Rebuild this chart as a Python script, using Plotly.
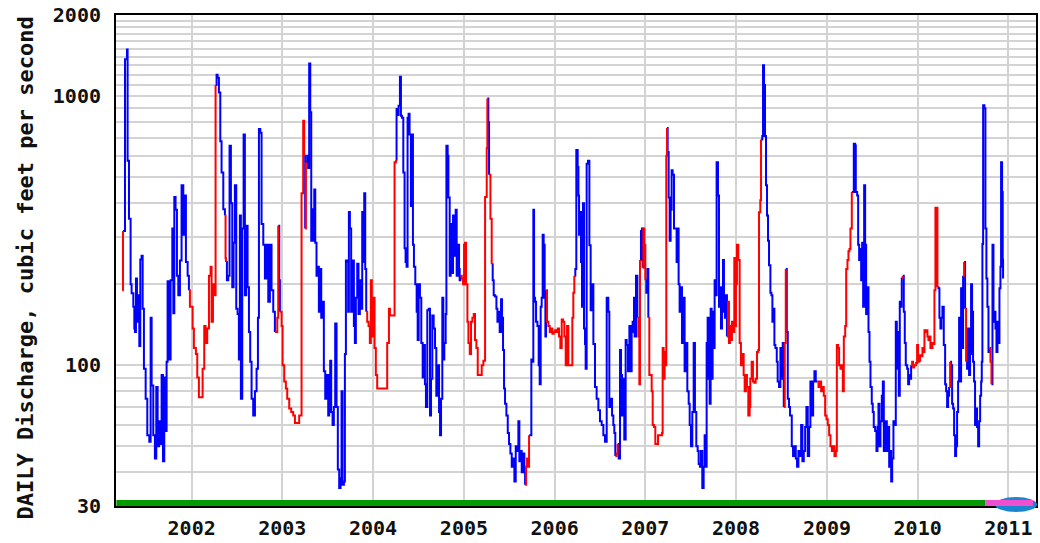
import math
from datetime import datetime
import plotly.graph_objects as go

# ---------------- data ----------------
# time in decimal years, discharge in cubic feet per second,
# flag per point: b = approved (blue), r = estimated/edited (red)

t_2001 = [2001.235, 2001.243, 2001.265, 2001.287, 2001.294, 2001.309, 2001.327, 2001.338, 2001.357, 2001.368,
          2001.375, 2001.386, 2001.397, 2001.412, 2001.423, 2001.434, 2001.448, 2001.460, 2001.474, 2001.493,
          2001.511, 2001.533, 2001.548, 2001.559, 2001.577, 2001.595, 2001.610, 2001.625, 2001.640, 2001.658,
          2001.669, 2001.684, 2001.698, 2001.713, 2001.724, 2001.735, 2001.753, 2001.768, 2001.787, 2001.798,
          2001.809, 2001.823, 2001.838, 2001.853, 2001.871, 2001.889, 2001.908, 2001.926, 2001.937, 2001.956,
          2001.970, 2001.981, 2002.011, 2002.025, 2002.047, 2002.062, 2002.080, 2002.102, 2002.121, 2002.139,
          2002.154, 2002.172, 2002.191, 2002.209, 2002.220, 2002.235, 2002.250, 2002.264, 2002.275, 2002.286,
          2002.301, 2002.316, 2002.330, 2002.349, 2002.367, 2002.374, 2002.378, 2002.389, 2002.404, 2002.418,
          2002.433, 2002.448, 2002.463, 2002.477, 2002.492, 2002.507, 2002.521, 2002.532, 2002.543, 2002.558,
          2002.573, 2002.587, 2002.602, 2002.617, 2002.632, 2002.646, 2002.661, 2002.679, 2002.698, 2002.716,
          2002.731, 2002.742, 2002.757, 2002.771, 2002.790, 2002.808, 2002.826, 2002.845]
q_2001 = [190, 315, 1370, 1490, 575, 350, 200, 185, 165, 137,
          133, 210, 145, 182, 118, 247, 255, 162, 97, 75,
          55, 52, 150, 84, 55, 45, 83, 50, 62, 51,
          92, 44, 90, 57, 103, 205, 105, 207, 322, 156,
          422, 378, 215, 182, 245, 466, 305, 427, 242, 215,
          190, 165, 137, 116, 110, 90, 76, 76, 97, 140,
          121, 137, 215, 232, 145, 200, 182, 1100, 1200, 1170,
          1030, 680, 520, 380, 360, 250, 242, 207, 215, 654,
          400, 195, 285, 466, 162, 155, 105, 360, 75, 322,
          720, 182, 330, 195, 133, 103, 75, 65, 80, 97,
          150, 755, 730, 335, 280, 210, 280, 172]
f_2001 = ("rbbbbbbbbb bbbbbbbbbb bbbbbbbbbb bbbbbbbbbb bbbbbbbbbb "
          "rrrrrrrrrr rrrrrrrbbb bbbbrrbbbb bbbbbbbbbb bbbbbbbbbb bbbbbbbb")

t_2003 = [2002.863, 2002.881, 2002.900, 2002.918, 2002.944, 2002.955, 2002.966, 2002.973, 2002.992, 2003.003,
          2003.021, 2003.039, 2003.054, 2003.076, 2003.098, 2003.120, 2003.139, 2003.168, 2003.186, 2003.205,
          2003.212, 2003.230, 2003.241, 2003.252, 2003.260, 2003.274, 2003.285, 2003.296, 2003.308, 2003.319,
          2003.330, 2003.341, 2003.352, 2003.363, 2003.377, 2003.392, 2003.403, 2003.414, 2003.429, 2003.443,
          2003.458, 2003.473, 2003.488, 2003.506, 2003.517, 2003.528, 2003.539, 2003.554, 2003.568, 2003.583,
          2003.598, 2003.612, 2003.627, 2003.642, 2003.653, 2003.664, 2003.679, 2003.690, 2003.701, 2003.715,
          2003.726, 2003.734, 2003.745, 2003.759, 2003.774, 2003.789, 2003.800, 2003.811, 2003.826, 2003.840,
          2003.855, 2003.870, 2003.881, 2003.892, 2003.903, 2003.914, 2003.925, 2003.936, 2003.951, 2003.965,
          2003.976, 2003.987, 2004.002, 2004.017, 2004.031, 2004.046, 2004.149, 2004.156, 2004.175, 2004.186,
          2004.230, 2004.237, 2004.252, 2004.259, 2004.270, 2004.281, 2004.296, 2004.307, 2004.318, 2004.333,
          2004.347, 2004.358, 2004.369, 2004.380, 2004.391, 2004.402, 2004.417, 2004.428, 2004.439, 2004.450,
          2004.465, 2004.480, 2004.491, 2004.502, 2004.516, 2004.531, 2004.546, 2004.560]
q_2003 = [280, 190, 158, 133, 150, 330, 207, 158, 140, 100,
          87, 82, 75, 69, 67, 65, 61, 61, 65, 65,
          435, 810, 600, 322, 568, 600, 540, 1320, 870, 290,
          380, 290, 450, 285, 215, 232, 158, 228, 150, 172,
          95, 75, 92, 65, 72, 104, 67, 60, 70, 143,
          70, 41, 35, 38, 80, 36, 37, 110, 245, 242,
          158, 371, 322, 158, 245, 140, 121, 178, 238, 155,
          207, 162, 371, 242, 435, 228, 158, 145, 140, 121,
          207, 128, 178, 116, 92, 82, 82, 121, 162, 153,
          153, 568, 580, 895, 850, 920, 1180, 845, 830, 520,
          272, 242, 232, 830, 860, 720, 390, 720, 280, 232,
          200, 158, 124, 200, 178, 121, 90, 119]
f_2003 = ("bbbrrbbrrr rrrrrrrrrr rrbrbbbbbb bbbbbbbbbb bbbbbbbbbb bbbbbbbbbb "
          "bbbbbbbbbb bbbbbbrrrr rrrrrrrrrr rrbbbbbbbb bbbbbbbbbb bbbbbbbb")

t_2005 = [2004.571, 2004.582, 2004.597, 2004.612, 2004.627, 2004.638, 2004.652, 2004.667, 2004.682, 2004.696,
          2004.711, 2004.726, 2004.737, 2004.748, 2004.762, 2004.773, 2004.784, 2004.799, 2004.807, 2004.821,
          2004.829, 2004.843, 2004.854, 2004.865, 2004.880, 2004.895, 2004.909, 2004.920, 2004.935, 2004.946,
          2004.953, 2004.961, 2004.976, 2004.990, 2005.001, 2005.012, 2005.023, 2005.038, 2005.049, 2005.064,
          2005.078, 2005.093, 2005.108, 2005.122, 2005.137, 2005.152, 2005.196, 2005.214, 2005.233, 2005.251,
          2005.258, 2005.269, 2005.277, 2005.292, 2005.306, 2005.317, 2005.328, 2005.343, 2005.358, 2005.369,
          2005.380, 2005.394, 2005.409, 2005.420, 2005.431, 2005.442, 2005.453, 2005.468, 2005.483, 2005.497,
          2005.512, 2005.527, 2005.541, 2005.556, 2005.571, 2005.585, 2005.600, 2005.611, 2005.622, 2005.637,
          2005.652, 2005.666, 2005.674, 2005.685, 2005.696, 2005.707, 2005.718, 2005.732, 2005.743, 2005.754,
          2005.765, 2005.773, 2005.784, 2005.795, 2005.810, 2005.824, 2005.835, 2005.846, 2005.857, 2005.868,
          2005.879, 2005.890, 2005.898, 2005.905, 2005.916, 2005.931, 2005.946, 2005.960, 2005.975, 2005.990,
          2006.004, 2006.019, 2006.034, 2006.048, 2006.063, 2006.078, 2006.093, 2006.107, 2006.122, 2006.137,
          2006.151, 2006.188, 2006.195, 2006.206, 2006.217, 2006.228, 2006.239, 2006.254, 2006.262, 2006.269]
q_2005 = [85, 70, 160, 162, 65, 89, 153, 137, 116, 77,
          100, 67, 55, 75, 178, 105, 121, 155, 654, 600,
          420, 215, 335, 220, 360, 255, 378, 215, 280, 228,
          207, 215, 210, 200, 280, 285, 200, 145, 121, 110,
          145, 150, 155, 124, 116, 92, 100, 104, 422, 640,
          980, 800, 510, 350, 237, 207, 182, 180, 162, 145,
          158, 133, 176, 150, 114, 82, 72, 65, 56, 51,
          47, 42, 45, 37, 50, 48, 62, 44, 48, 40,
          47, 40, 36, 42, 45, 42, 55, 55, 105, 103,
          378, 178, 172, 145, 140, 100, 85, 165, 178, 305,
          280, 178, 128, 190, 145, 140, 133, 137, 131, 133,
          135, 133, 137, 128, 116, 148, 145, 128, 100, 140,
          100, 100, 150, 186, 215, 228, 630, 545, 427, 305]
f_2005 = ("bbbbbbbbbb bbbbbbbbbb bbbbbbbbbb brrrrrrrrr rrrrrrrrrr bbrrbbbbbb bbbbbbbbbb "
          "bbbbbbbbbb bbrrrrbbbb bbbbbbbbbb bbbrrrrrrr rrrrrrrrrr rrrrbbbbbb")

t_2007 = [2006.280, 2006.291, 2006.302, 2006.313, 2006.324, 2006.335, 2006.342, 2006.353, 2006.368, 2006.383,
          2006.397, 2006.412, 2006.427, 2006.445, 2006.463, 2006.482, 2006.500, 2006.519, 2006.537, 2006.555,
          2006.574, 2006.592, 2006.603, 2006.618, 2006.633, 2006.647, 2006.658, 2006.669, 2006.684, 2006.695,
          2006.706, 2006.721, 2006.732, 2006.743, 2006.757, 2006.768, 2006.783, 2006.794, 2006.809, 2006.824,
          2006.838, 2006.849, 2006.860, 2006.875, 2006.882, 2006.897, 2006.912, 2006.923, 2006.934, 2006.941,
          2006.952, 2006.963, 2006.971, 2006.978, 2006.989, 2007.000, 2007.011, 2007.022, 2007.033, 2007.044,
          2007.059, 2007.070, 2007.081, 2007.095, 2007.110, 2007.125, 2007.140, 2007.184, 2007.191, 2007.202,
          2007.213, 2007.224, 2007.231, 2007.239, 2007.246, 2007.257, 2007.268, 2007.279, 2007.290, 2007.301,
          2007.316, 2007.331, 2007.345, 2007.356, 2007.367, 2007.378, 2007.393, 2007.404, 2007.419, 2007.433,
          2007.448, 2007.463, 2007.478, 2007.489, 2007.503, 2007.518, 2007.533, 2007.547, 2007.562, 2007.577,
          2007.588, 2007.602, 2007.613, 2007.628, 2007.643, 2007.654, 2007.665, 2007.676, 2007.687, 2007.698,
          2007.709, 2007.720, 2007.731, 2007.742, 2007.753, 2007.764, 2007.775, 2007.786, 2007.801, 2007.812,
          2007.823, 2007.834, 2007.845, 2007.856, 2007.867, 2007.878, 2007.889, 2007.900, 2007.911, 2007.922,
          2007.933, 2007.944, 2007.955, 2007.970, 2007.981]
q_2007 = [371, 242, 165, 400, 137, 120, 97, 560, 575, 279,
          160, 200, 120, 83, 75, 68, 62, 60, 55, 52,
          178, 158, 70, 75, 65, 60, 56, 46, 47, 51,
          45, 114, 92, 65, 89, 53, 124, 119, 95, 140,
          95, 133, 145, 178, 128, 215, 150, 128, 85, 246,
          315, 322, 230, 322, 280, 207, 186, 228, 150, 92,
          92, 80, 60, 59, 51, 51, 55, 56, 116, 89,
          112, 100, 600, 760, 620, 420, 290, 378, 530, 510,
          322, 322, 242, 322, 200, 158, 195, 121, 178, 95,
          121, 80, 72, 60, 50, 67, 121, 67, 50, 48,
          43, 42, 48, 35, 42, 55, 42, 121, 150, 89,
          72, 162, 89, 158, 116, 207, 182, 568, 427, 165,
          195, 137, 158, 246, 182, 150, 182, 128, 172, 121,
          140, 124, 145, 133, 250]
f_2007 = ("bbbbbbbbbb bbbbbbbbbb bbbbbbbrrb bbbbbbbbbb bbbbbbrrrb bbrrrbbbrr rrrrrrrrrr "
          "rrrbbbbbbb bbbbbbbbbb bbbbbbbbbb bbbbbbbbbb bbbbbbbbbb bbbbbbbrrr rrrrr")

t_2009 = [2007.988, 2007.999, 2008.010, 2008.025, 2008.040, 2008.054, 2008.069, 2008.084, 2008.095, 2008.109,
          2008.120, 2008.135, 2008.150, 2008.157, 2008.172, 2008.186, 2008.201, 2008.216, 2008.231, 2008.245,
          2008.253, 2008.267, 2008.275, 2008.289, 2008.297, 2008.308, 2008.319, 2008.330, 2008.341, 2008.352,
          2008.363, 2008.378, 2008.389, 2008.400, 2008.411, 2008.422, 2008.433, 2008.448, 2008.458, 2008.473,
          2008.488, 2008.499, 2008.514, 2008.525, 2008.536, 2008.547, 2008.558, 2008.569, 2008.583, 2008.594,
          2008.613, 2008.627, 2008.642, 2008.657, 2008.671, 2008.686, 2008.701, 2008.716, 2008.730, 2008.745,
          2008.760, 2008.774, 2008.789, 2008.804, 2008.818, 2008.833, 2008.848, 2008.862, 2008.877, 2008.892,
          2008.907, 2008.921, 2008.936, 2008.951, 2008.965, 2008.980, 2008.995, 2009.009, 2009.024, 2009.039,
          2009.054, 2009.068, 2009.083, 2009.098, 2009.109, 2009.123, 2009.134, 2009.149, 2009.164, 2009.175,
          2009.186, 2009.201, 2009.212, 2009.226, 2009.237, 2009.248, 2009.259, 2009.274, 2009.285, 2009.296,
          2009.311, 2009.318, 2009.333, 2009.344, 2009.355, 2009.366, 2009.377, 2009.388, 2009.399, 2009.410,
          2009.421, 2009.432, 2009.443, 2009.458, 2009.469, 2009.480, 2009.494, 2009.505, 2009.516, 2009.531,
          2009.546, 2009.557, 2009.568, 2009.579, 2009.590, 2009.605, 2009.616, 2009.627]
q_2009 = [140, 200, 280, 246, 121, 100, 110, 92, 80, 92,
          83, 65, 70, 89, 103, 87, 86, 89, 112, 114,
          370, 410, 690, 710, 1300, 1100, 710, 466, 360, 290,
          235, 186, 182, 145, 162, 119, 116, 103, 87, 83,
          116, 89, 121, 70, 121, 228, 133, 75, 70, 65,
          50, 46, 50, 45, 42, 48, 46, 60, 44, 48,
          59, 70, 46, 59, 87, 65, 87, 95, 87, 87,
          83, 87, 80, 83, 77, 65, 63, 60, 55, 50,
          48, 50, 46, 48, 119, 116, 100, 97, 100, 80,
          128, 140, 228, 246, 265, 270, 322, 440, 440, 665,
          655, 440, 427, 280, 246, 270, 207, 285, 165, 466,
          280, 155, 195, 133, 103, 83, 72, 67, 59, 57,
          48, 59, 72, 50, 62, 77, 87, 48]
f_2009 = ("rrrrrrrrrr rrrrrrrrrr rrbbbbbbbb bbbbbbbbbb bbbrrbbbbb bbbbbbbbbb bbbbbbbbbr "
          "rrrrrrrrrr rrrrrrrrrr rrrrrrrbbb bbbbbbbbbb bbbbbbbbbb bbbbbbbb")

t_2010 = [2009.642, 2009.660, 2009.675, 2009.686, 2009.697, 2009.708, 2009.719, 2009.733, 2009.748, 2009.759,
          2009.770, 2009.781, 2009.792, 2009.803, 2009.814, 2009.825, 2009.836, 2009.847, 2009.858, 2009.869,
          2009.884, 2009.895, 2009.906, 2009.917, 2009.928, 2009.939, 2009.950, 2009.961, 2009.972, 2009.983,
          2009.994, 2010.005, 2010.016, 2010.027, 2010.038, 2010.053, 2010.064, 2010.075, 2010.086, 2010.097,
          2010.108, 2010.119, 2010.130, 2010.141, 2010.152, 2010.163, 2010.174, 2010.185, 2010.196, 2010.207,
          2010.218, 2010.229, 2010.240, 2010.251, 2010.262, 2010.273, 2010.288, 2010.303, 2010.314, 2010.325,
          2010.336, 2010.347, 2010.358, 2010.369, 2010.380, 2010.391, 2010.402, 2010.413, 2010.424, 2010.435,
          2010.446, 2010.457, 2010.468, 2010.479, 2010.490, 2010.501, 2010.512, 2010.523, 2010.534, 2010.545,
          2010.556, 2010.567, 2010.578, 2010.589, 2010.600, 2010.611, 2010.622, 2010.633, 2010.644, 2010.655,
          2010.667, 2010.678, 2010.689, 2010.700, 2010.707, 2010.714, 2010.722, 2010.736, 2010.747, 2010.758,
          2010.769, 2010.781, 2010.792, 2010.803, 2010.814, 2010.825, 2010.836, 2010.847, 2010.858, 2010.869,
          2010.880, 2010.891, 2010.902, 2010.913, 2010.920, 2010.931, 2010.938, 2010.942]
q_2010 = [62, 48, 59, 42, 48, 37, 45, 62, 60, 145,
          133, 97, 77, 172, 165, 212, 215, 158, 121, 100,
          97, 85, 92, 89, 100, 103, 98, 100, 100, 102,
          119, 103, 104, 109, 108, 116, 112, 135, 133, 135,
          128, 124, 128, 116, 116, 121, 120, 190, 385, 385,
          195, 193, 150, 137, 150, 165, 119, 85, 80, 70,
          77, 83, 103, 100, 72, 69, 55, 46, 50, 67,
          87, 150, 87, 193, 116, 215, 242, 162, 103, 97,
          137, 92, 110, 200, 158, 103, 87, 60, 69, 59,
          50, 62, 77, 87, 103, 282, 925, 900, 322, 210,
          165, 112, 116, 103, 85, 280, 145, 158, 137, 112,
          145, 121, 193, 232, 568, 440, 246, 210]
f_2010 = ("bbbbbbbbbb bbbbbrbbbb bbbbrrrrrr rrrrrrrrrr rrrrrrrrrr bbbbbbbbbb brbbbbbbbb "
          "bbbbbrbrbb bbbbbbbbbb bbbbbbbbbb bbrrbbbbbb bbbbbbbb")

# record-status bar along the bottom: approved and provisional periods
approved_period = (2001.170, 2010.744)
provisional_period = (2010.744, 2011.272)

years = [2002, 2003, 2004, 2005, 2006, 2007, 2008, 2009, 2010, 2011]
y_ticks = [30, 40, 50, 60, 70, 80, 90, 100, 200, 300, 400, 500, 600, 700, 800, 900,
           1000, 1100, 1200, 1300, 1400, 1500, 1600, 1700, 1800, 1900, 2000]
y_labels = {30: "30", 100: "100", 1000: "1000", 2000: "2000"}
x_range = (2001.166, 2011.305)


# ---------------- build ----------------
def to_dt(d):
    y = int(d)
    a, b = datetime(y, 1, 1), datetime(y + 1, 1, 1)
    return a + (b - a) * (d - y)


T, Q, F = [], [], ""
for t, q, f in [(t_2001, q_2001, f_2001), (t_2003, q_2003, f_2003), (t_2005, q_2005, f_2005),
                (t_2007, q_2007, f_2007), (t_2009, q_2009, f_2009), (t_2010, q_2010, f_2010)]:
    f = f.replace(" ", "")
    assert len(t) == len(q) == len(f), (len(t), len(q), len(f))
    T += t
    Q += q
    F += f

dates = [to_dt(v) for v in T]
segs = {"b": ([], []), "r": ([], [])}
n = len(Q)
i = 0
while i < n:
    s = F[i]
    j = i
    while j + 1 < n and F[j + 1] == s:
        j += 1
    end = min(j + 1, n - 1)
    xs, ys = segs[s]
    xs += dates[i:end + 1] + [None]
    ys += Q[i:end + 1] + [None]
    i = j + 1

fig = go.Figure()
for s, col in (("b", "#0000ff"), ("r", "#ff0000")):
    fig.add_trace(go.Scatter(x=segs[s][0], y=segs[s][1], mode="lines",
                             line=dict(color=col, width=2, shape="hv"),
                             connectgaps=False, showlegend=False, hoverinfo="skip"))

font = dict(family="DejaVu Sans Mono", size=20, color="#111111", weight="bold")

fig.update_layout(
    width=1040, height=543,
    margin=dict(l=116, r=4, t=15, b=37, autoexpand=False),
    paper_bgcolor="white", plot_bgcolor="white",
    showlegend=False,
    xaxis=dict(type="date", range=[to_dt(x_range[0]), to_dt(x_range[1])],
               tickvals=[datetime(y, 1, 1) for y in years], ticktext=[str(y) for y in years],
               showgrid=True, gridcolor="#d3d3d3", gridwidth=2, zeroline=False,
               showline=True, linecolor="black", linewidth=2, mirror=True, automargin=False,
               ticks="", tickfont=font, ticklabelstandoff=3),
    yaxis=dict(type="log", range=[math.log10(30), math.log10(2000)],
               tickvals=y_ticks, ticktext=[y_labels.get(v, "") for v in y_ticks],
               showgrid=True, gridcolor="#d3d3d3", gridwidth=2, zeroline=False,
               showline=True, linecolor="black", linewidth=2, mirror=True, automargin=False,
               ticks="", tickfont=font, ticklabelstandoff=9),
)

# status bar shapes
fig.add_shape(type="circle", xref="paper", yref="paper",
              x0=(995 - 116) / 920, x1=(1037 - 116) / 920, y0=-0.0122, y1=0.0183,
              fillcolor="#1a86d0", line=dict(width=0), layer="above")
fig.add_shape(type="rect", xref="x", yref="paper",
              x0=to_dt(approved_period[0]), x1=to_dt(approved_period[1]), y0=0.0, y1=0.012,
              fillcolor="#009900", line=dict(width=0), layer="above")
fig.add_shape(type="rect", xref="x", yref="paper",
              x0=to_dt(provisional_period[0]), x1=to_dt(provisional_period[1]), y0=0.0, y1=0.012,
              fillcolor="#f050d0", line=dict(width=0), layer="above")

fig.add_annotation(text="DAILY Discharge, cubic feet per second", textangle=-90,
                   xref="paper", yref="paper", x=(26 - 116) / 920, y=0.4837,
                   xanchor="center", yanchor="middle", showarrow=False,
                   font=dict(family="DejaVu Sans Mono", size=22, color="#111111", weight="bold"))

fig.write_html("out.html", config={"displayModeBar": False},
               post_script="document.body.style.margin='0';document.body.style.overflow='hidden';")
